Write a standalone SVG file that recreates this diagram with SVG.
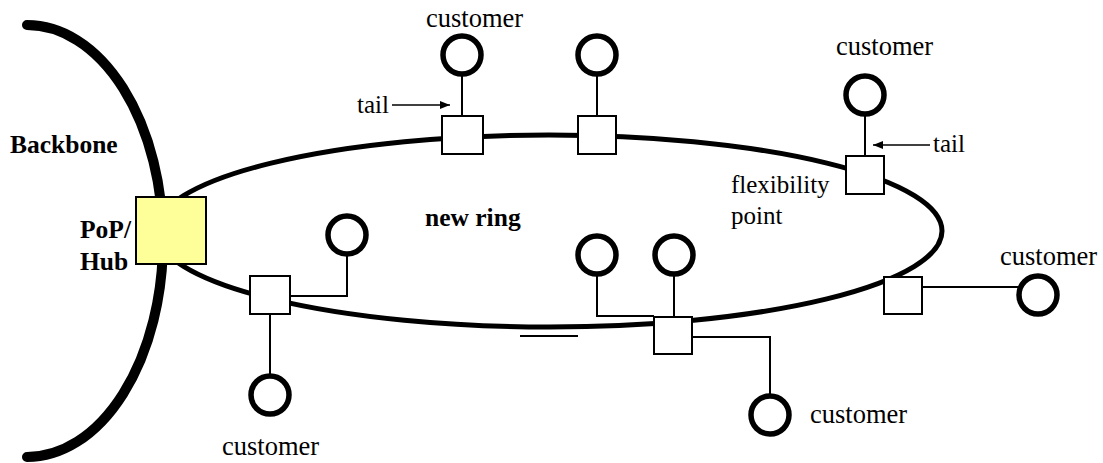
<svg xmlns="http://www.w3.org/2000/svg" width="1103" height="463" viewBox="0 0 1103 463">
  <style>
    .bone { fill: none; stroke: #000; stroke-width: 10; stroke-linecap: round; }
    .ring { fill: none; stroke: #000; stroke-width: 5; }
    .node { fill: #fff; stroke: #000; stroke-width: 2; }
    .hub { fill: #ffff99; stroke: #000; stroke-width: 2; }
    .cust { fill: #fff; stroke: #000; stroke-width: 5.5; }
    .tail { fill: none; stroke: #000; stroke-width: 2; }
    .ptr { fill: none; stroke: #000; stroke-width: 1.6; }
    .lbl { font-family: "Liberation Serif", "Times New Roman", serif; font-size: 25px; fill: #000; }
    .cname { font-size: 26.5px; }
    .bold { font-weight: bold; font-size: 25.5px; }
  </style>
  <defs>
    <marker id="arrow" viewBox="0 0 10 8" refX="10" refY="4" markerWidth="10" markerHeight="8" markerUnits="userSpaceOnUse" orient="auto">
      <path d="M0,0 L10,4 L0,8 z" fill="#000"/>
    </marker>
  </defs>

  <rect width="1103" height="463" fill="#fff"/>

  <!-- backbone arc -->
  <g id="backbone">
    <path class="bone" d="M 27 25 A 136 216 0 0 1 27 457"/>
    <text class="lbl bold" x="10" y="153">Backbone</text>
  </g>

  <!-- the new ring -->
  <g id="ring">
    <ellipse class="ring" cx="549" cy="231" rx="393" ry="96"/>
    <line x1="520" y1="336" x2="578" y2="336" stroke="#000" stroke-width="2"/>
    <text class="lbl bold" x="425" y="226">new ring</text>
  </g>

  <!-- connectors: tails from ring nodes to customers -->
  <g id="connectors">
    <line class="tail" x1="462" y1="76" x2="462" y2="116"/>
    <line class="tail" x1="597" y1="76" x2="597" y2="116"/>
    <line class="tail" x1="865" y1="116" x2="865" y2="156"/>
    <line class="tail" x1="922" y1="287" x2="1019" y2="287"/>
    <polyline class="tail" points="597,275 597,316 654,316"/>
    <line class="tail" x1="674" y1="275" x2="674" y2="317"/>
    <polyline class="tail" points="692,337 770,337 770,396"/>
    <polyline class="tail" points="347,256 347,296 290,296"/>
    <line class="tail" x1="270" y1="314" x2="270" y2="376"/>
    <line class="ptr" x1="392" y1="105" x2="450" y2="105" marker-end="url(#arrow)"/>
    <line class="ptr" x1="930" y1="145" x2="873" y2="145" marker-end="url(#arrow)"/>
  </g>

  <!-- PoP / Hub -->
  <g id="hub">
    <rect class="hub" x="136" y="197" width="70" height="67"/>
    <text class="lbl bold" x="80" y="238">PoP/</text>
    <text class="lbl bold" x="80" y="270">Hub</text>
  </g>

  <!-- ring nodes -->
  <g id="node-top1"><rect class="node" x="442" y="116" width="41" height="38"/></g>
  <g id="node-top2"><rect class="node" x="578" y="116" width="38" height="38"/></g>
  <g id="node-flex">
    <rect class="node" x="846" y="156" width="38" height="38"/>
    <text class="lbl" x="731" y="193">flexibility</text>
    <text class="lbl" x="731" y="224">point</text>
  </g>
  <g id="node-right"><rect class="node" x="884" y="277" width="38" height="37"/></g>
  <g id="node-bottom"><rect class="node" x="654" y="317" width="38" height="37"/></g>
  <g id="node-left"><rect class="node" x="250" y="276" width="40" height="38"/></g>

  <!-- customers -->
  <g id="cust-top1">
    <circle class="cust" cx="462" cy="55" r="19"/>
    <text class="lbl cname" x="426" y="27">customer</text>
  </g>
  <g id="cust-top2"><circle class="cust" cx="597" cy="55" r="19"/></g>
  <g id="cust-flex">
    <circle class="cust" cx="865" cy="95" r="19"/>
    <text class="lbl cname" x="836" y="55">customer</text>
  </g>
  <g id="cust-right">
    <circle class="cust" cx="1038" cy="295" r="19"/>
    <text class="lbl cname" x="1000" y="265">customer</text>
  </g>
  <g id="cust-bottom1"><circle class="cust" cx="597" cy="255" r="19"/></g>
  <g id="cust-bottom2"><circle class="cust" cx="674" cy="255" r="19"/></g>
  <g id="cust-bottom3">
    <circle class="cust" cx="770" cy="415" r="19"/>
    <text class="lbl cname" x="810" y="423">customer</text>
  </g>
  <g id="cust-left1"><circle class="cust" cx="347" cy="235" r="19"/></g>
  <g id="cust-left2">
    <circle class="cust" cx="270" cy="395" r="19"/>
    <text class="lbl cname" x="222" y="455">customer</text>
  </g>

  <!-- tail labels -->
  <g id="tail-labels">
    <text class="lbl" x="357" y="113">tail</text>
    <text class="lbl" x="933" y="152">tail</text>
  </g>
</svg>
